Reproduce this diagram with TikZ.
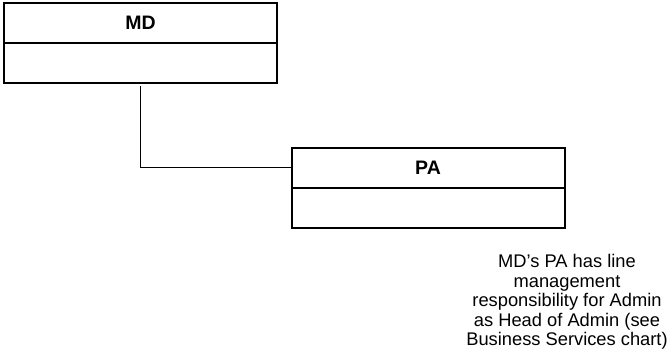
\documentclass[tikz,border=0pt]{standalone}
\usepackage{fontspec}
\setmainfont{Liberation Sans}
\usepackage{tikz}
\usetikzlibrary{positioning}
\tikzstyle{title} = [rectangle, draw=black, line width=2pt, outer sep=0pt, minimum width=273pt, minimum height=40pt, text centered, font=\fontsize{19.5}{22}\selectfont\bfseries]
\tikzstyle{body} = [rectangle, draw=black, line width=2pt, outer sep=0pt, minimum width=273pt, minimum height=40pt]
\tikzstyle{note} = [align=center, inner sep=0pt, font=\fontsize{18.3}{19.6}\selectfont]
\tikzstyle{link} = [line width=1.2pt]

\begin{document}
\begin{tikzpicture}[x=1pt, y=1pt]
\useasboundingbox (0,0) rectangle (668,-353);
\node (MD) [title] at (140.5,-23) {MD};
\node (MDbody) [body, below=0pt of MD] {};
\node (PA) [title] at (428,-167.5) {PA};
\node (PAbody) [body, below=0pt of PA] {};
\node (Note) [note, anchor=north] at (567,-254) {MD’s PA has line\\management\\responsibility for Admin\\as Head of Admin (see\\Business Services chart)};

\draw [link] ([yshift=-3pt]MDbody.south) |- (PA.west);
\end{tikzpicture}
\end{document}
